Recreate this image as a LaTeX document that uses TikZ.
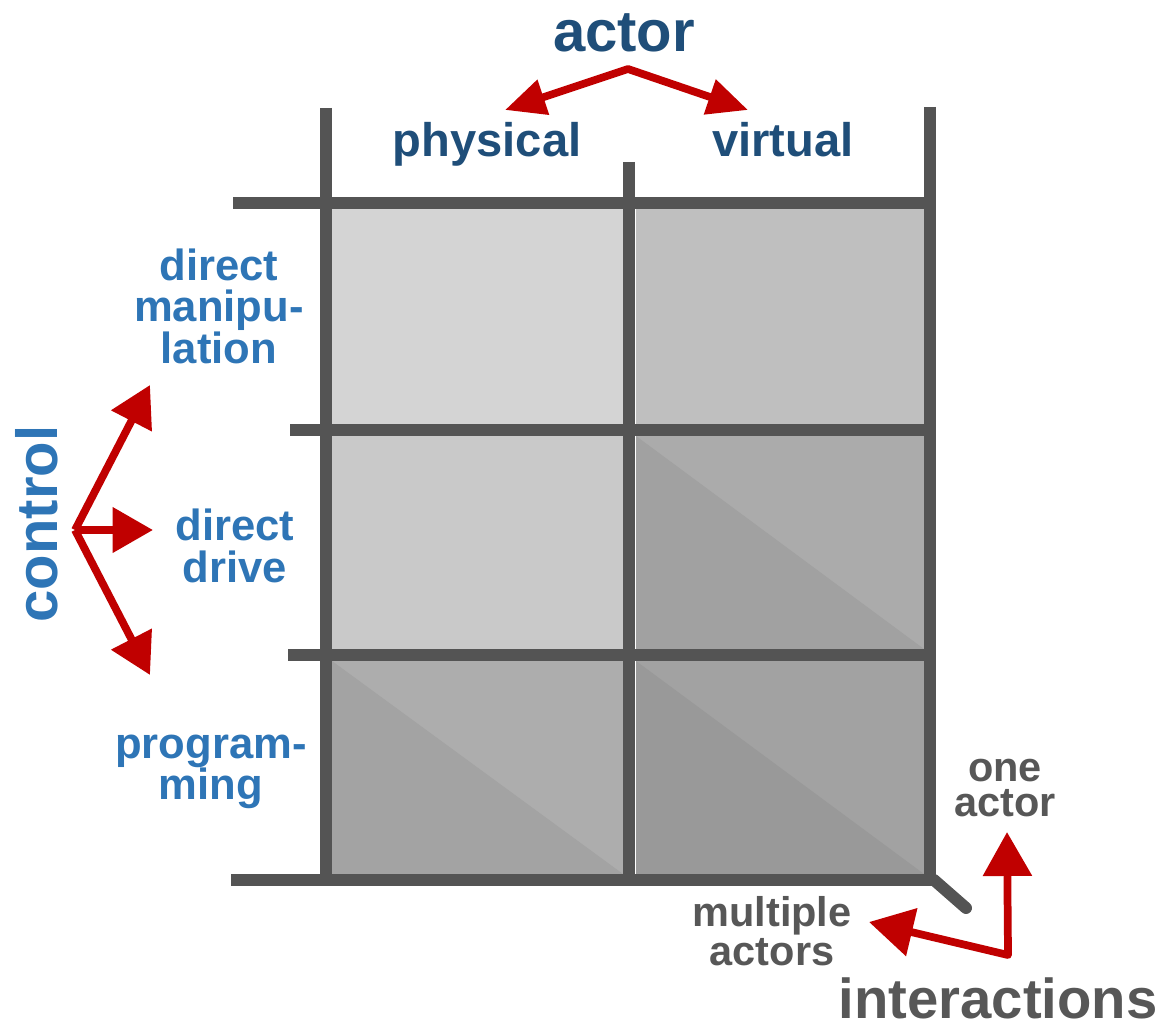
\documentclass[tikz,border=0pt]{standalone}
\usepackage{fontspec}
\setmainfont{Liberation Sans}
\usetikzlibrary{arrows.meta}
\definecolor{gridgray}{HTML}{545454}
\definecolor{textgray}{HTML}{575757}
\definecolor{darkblue}{HTML}{1F4E79}
\definecolor{midblue}{HTML}{2E75B6}
\definecolor{arrowred}{HTML}{C00000}

\begin{document}
\begin{tikzpicture}[x=0.01cm,y=-0.01cm,
    gridline/.style={line width=3.4pt,gridgray},
    redarrow/.style={line width=2.2pt,arrowred,line join=round,
      -{Triangle[length=11.5pt,width=12.5pt]}},
    bigtitle/.style={font=\fontsize{16.5}{18}\selectfont\bfseries},
    colhead/.style={font=\fontsize{13.4}{15}\selectfont\bfseries,text=darkblue,anchor=base},
    rowhead/.style={font=\fontsize{12.4}{11.8}\selectfont\bfseries,text=midblue,align=center},
    grayhead/.style={font=\fontsize{11.8}{10}\selectfont\bfseries,text=textgray,align=center}]
          \useasboundingbox (0,0) rectangle (1171,1028);
          % cells
          \fill[black!17] (332,209) rectangle (623,424);
          \fill[black!25] (636,209) rectangle (924,424);
          \fill[black!21] (332,436) rectangle (623,649);
          \fill[black!33] (636,436) rectangle (924,649);
          \fill[black!37] (636,436) -- (636,649) -- (924,649) -- cycle;
          \fill[black!32] (332,661) rectangle (623,874);
          \fill[black!36] (332,661) -- (332,874) -- (623,874) -- cycle;
          \fill[black!36.5] (636,661) rectangle (924,874);
          \fill[black!40] (636,661) -- (636,874) -- (924,874) -- cycle;
          % grid
          \draw[gridline] (326,108) -- (326,886);
          \draw[gridline] (629,162) -- (629,886);
          \draw[gridline] (930,107) -- (930,886);
          \draw[gridline] (233,203) -- (936,203);
          \draw[gridline] (290,430) -- (936,430);
          \draw[gridline] (288,655) -- (936,655);
          \draw[gridline] (231,880) -- (936,880);
          \draw[gridline,line cap=round] (934,880) -- (966,908);
          % actor
          \node[bigtitle,text=darkblue,anchor=base] (actor) at (624,52) {actor};
          \node[colhead] (physical) at (487,157) {physical};
          \node[colhead] (virtual) at (783,157) {virtual};
          \coordinate (actorfork) at (628,69);
          \coordinate (tophys) at (505,110);
          \coordinate (tovirt) at (748,110);
          \draw[redarrow,{Triangle[length=11.5pt,width=10pt]}-{Triangle[length=11.5pt,width=10pt]}] (tophys) -- (actorfork) -- (tovirt);
          % control
          \node[bigtitle,text=midblue,rotate=90,anchor=base] (control) at (57,524) {control};
          \node[rowhead] (manip) at (219,306) {direct\\manipu-\\lation};
          \node[rowhead] (drive) at (235,546) {direct\\drive};
          \node[rowhead] (prog) at (211,772) {program-\\ming};
          \coordinate (ctrlfork) at (75,530);
          \coordinate (tomanip) at (150,385);
          \coordinate (todrive) at (153,530);
          \coordinate (toprog) at (150,675);
          \draw[redarrow] (ctrlfork) -- (tomanip);
          \draw[redarrow] (ctrlfork) -- (todrive);
          \draw[redarrow] (ctrlfork) -- (toprog);
          % interactions
          \node[grayhead] (one) at (1005,788) {one\\actor};
          \node[grayhead] (multi) at (772,931) {multiple\\actors};
          \node[font=\fontsize{16}{18}\selectfont\bfseries,text=textgray,anchor=base west,inner sep=0pt] (inter) at (838,1018) {interactions};
          \coordinate (intfork) at (1008,955);
          \coordinate (toone) at (1007,832);
          \coordinate (tomulti) at (869,922);
          \draw[redarrow,{Triangle[length=12.5pt,width=13.5pt]}-{Triangle[length=12.5pt,width=13.5pt]}] (tomulti) -- (intfork) -- (toone);
            \end{tikzpicture}
\end{document}
